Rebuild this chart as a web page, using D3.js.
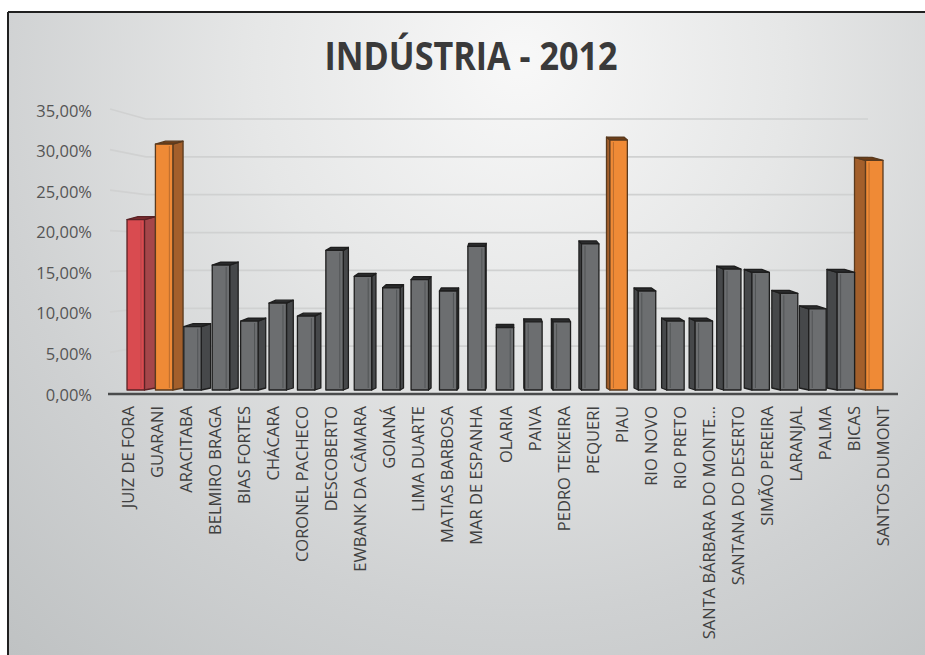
<!DOCTYPE html>
<html>
<head>
<meta charset="utf-8">
<script src="https://cdn.jsdelivr.net/npm/d3@7"></script>
<style>
  html, body { margin: 0; padding: 0; background: #ffffff; overflow: hidden; }
  svg { display: block; }
</style>
</head>
<body>
<svg id="chart" width="925" height="655"></svg>
<script>
// Participação da indústria por município, 2012
const categories = [
  "JUIZ DE FORA", "GUARANI", "ARACITABA", "BELMIRO BRAGA", "BIAS FORTES",
  "CHÁCARA", "CORONEL PACHECO", "DESCOBERTO", "EWBANK DA CÂMARA", "GOIANÁ",
  "LIMA DUARTE", "MATIAS BARBOSA", "MAR DE ESPANHA", "OLARIA", "PAIVA",
  "PEDRO TEIXEIRA", "PEQUERI", "PIAU", "RIO NOVO", "RIO PRETO",
  "SANTA BÁRBARA DO MONTE…", "SANTANA DO DESERTO", "SIMÃO PEREIRA", "LARANJAL",
  "PALMA", "BICAS", "SANTOS DUMONT"
];
const values = [
  21.0, 30.3, 7.8, 15.4, 8.5,
  10.7, 9.1, 17.2, 14.0, 12.6,
  13.6, 12.2, 17.7, 7.7, 8.4,
  8.4, 18.0, 30.8, 12.2, 8.5,
  8.5, 14.9, 14.5, 11.9,
  10.0, 14.5, 28.3
];
const yTicks = [0, 5, 10, 15, 20, 25, 30, 35];
const titleText = "INDÚSTRIA - 2012";

// colour groups: the pole city in red, the highest shares in orange
const redSet = new Set(["JUIZ DE FORA"]);
const orangeSet = new Set(["GUARANI", "PIAU", "SANTOS DUMONT"]);
const palettes = {
  red:    { front: "#d94b50", side: "#a5464a", top: "#7a2a2e", line: "#5a2225" },
  orange: { front: "#ef8a36", side: "#a35f2b", top: "#6e3e18", line: "#5a3a1e" },
  gray:   { front: "#6c6e70", side: "#46484a", top: "#2a2b2c", line: "#1e1e1e" }
};
const paletteOf = c => redSet.has(c) ? palettes.red : orangeSet.has(c) ? palettes.orange : palettes.gray;

const pt = d3.formatLocale({ decimal: ",", thousands: ".", grouping: [3], currency: ["R$", ""] });
const fmt = v => pt.format(".2f")(v) + "%";

const svg = d3.select("#chart");
const W = 925, H = 655;

// ---- background panel with soft radial shading ----
const defs = svg.append("defs");
const bg = defs.append("radialGradient").attr("id", "bg")
  .attr("gradientUnits", "userSpaceOnUse")
  .attr("cx", 520).attr("cy", 90).attr("r", 760)
  .attr("fx", 520).attr("fy", 60);
[[0, "#f8f8f8"], [0.35, "#e6e7e7"], [0.7, "#cfd1d2"], [1, "#bfc2c3"]]
  .forEach(([o, c]) => bg.append("stop").attr("offset", o).attr("stop-color", c));

svg.append("rect").attr("x", 8).attr("y", 12).attr("width", W - 8).attr("height", H - 12)
  .attr("fill", "url(#bg)");
// frame edges (top and left)
svg.append("line").attr("x1", 8).attr("x2", W).attr("y1", 12).attr("y2", 12)
  .attr("stroke", "#202020").attr("stroke-width", 2);
svg.append("line").attr("x1", 8).attr("x2", 8).attr("y1", 12).attr("y2", H)
  .attr("stroke", "#202020").attr("stroke-width", 2);

// ---- title ----
svg.append("text")
  .attr("x", 471).attr("y", 70)
  .attr("text-anchor", "middle")
  .attr("font-family", "'Open Sans', sans-serif")
  .attr("font-weight", 700)
  .attr("font-size", 39)
  .attr("textLength", 293)
  .attr("lengthAdjust", "spacingAndGlyphs")
  .attr("fill", "#3a3a3a")
  .text(titleText);

// ---- scales ----
const y = d3.scaleLinear().domain([0, 35]).range([390, 106]);
// back wall of the 3D plot sits slightly lower and shallower
const yBack = d3.scaleLinear().domain([0, 35]).range([384, 119]);
const x = d3.scaleBand().domain(categories).range([112.5, 897.5]).paddingInner(0).paddingOuter(0);
const midIdx = (categories.length - 1) / 2;
const cx = x(categories[Math.round(midIdx)]) + x.bandwidth() / 2;
const barCenter = c => cx + (x(c) + x.bandwidth() / 2 - cx) * 0.977;
const frontW = x.bandwidth() * 0.6;

// ---- gridlines: short slanted piece on the side wall, then along the back wall ----
const grid = svg.append("g");
yTicks.filter(t => t > 0).forEach(t => {
  grid.append("path")
    .attr("d", d3.line()([[110, y(t) + 3], [146, yBack(t)], [868, yBack(t)]]))
    .attr("fill", "none").attr("stroke", "#d0d1d1").attr("stroke-width", 1.7);
});

// ---- y tick labels ----
svg.append("g").selectAll("text").data(yTicks).join("text")
  .attr("x", 92).attr("y", d => y(d) + 4)
  .attr("text-anchor", "end")
  .attr("dominant-baseline", "central")
  .attr("font-family", "'Open Sans', sans-serif")
  .attr("font-size", 16.5)
  .attr("fill", "#555555")
  .text(fmt);

// ---- floor edge ----
svg.append("line").attr("x1", 108).attr("x2", 898).attr("y1", 394).attr("y2", 394)
  .attr("stroke", "#4a4b4c").attr("stroke-width", 2.6);

// ---- bars (front, side and top faces) ----
const base = y(0);
const rise = 3;
const order = d3.range(categories.length)
  .sort((a, b) => Math.abs(b - midIdx) - Math.abs(a - midIdx));
const barsG = svg.append("g");
order.forEach(i => {
  const c = categories[i], v = values[i], p = paletteOf(c);
  const xc = barCenter(c);
  const x0 = xc - frontW / 2, x1 = xc + frontW / 2;
  const top = y(v);
  const s = 0.85 * (midIdx - i);         // >0: side visible on the right, <0: on the left
  const g = barsG.append("g").attr("stroke", p.line).attr("stroke-width", 1.3).attr("stroke-linejoin", "round");
  // side face
  if (Math.abs(s) > 0.5) {
    const ex = s > 0 ? x1 : x0;
    g.append("path")
      .attr("d", d3.line()([[ex, top], [ex + s, top - rise], [ex + s, base - rise + 1], [ex, base]]) + "Z")
      .attr("fill", p.side);
  }
  // top face
  g.append("path")
    .attr("d", d3.line()([[x0, top], [x1, top], [x1 + s, top - rise], [x0 + s, top - rise]]) + "Z")
    .attr("fill", p.top);
  // front face
  g.append("rect")
    .attr("x", x0).attr("y", top).attr("width", frontW).attr("height", base - top)
    .attr("fill", p.front);
  // inner bevel stripe on the front
  const sx = s >= 0 ? x1 - 3.5 : x0 + 3.5;
  g.append("line")
    .attr("x1", sx).attr("x2", sx).attr("y1", top + 2).attr("y2", base - 2)
    .attr("stroke", p.side).attr("stroke-width", 1).attr("stroke-opacity", 0.7);
});

// ---- category labels ----
svg.append("g").selectAll("text").data(categories).join("text")
  .attr("transform", d => `translate(${x(d) + x.bandwidth() / 2},406) rotate(-90)`)
  .attr("text-anchor", "end")
  .attr("dominant-baseline", "central")
  .attr("font-family", "'Open Sans', sans-serif")
  .attr("font-size", 16.5)
  .attr("fill", "#404040")
  .text(d => d);
</script>
</body>
</html>
